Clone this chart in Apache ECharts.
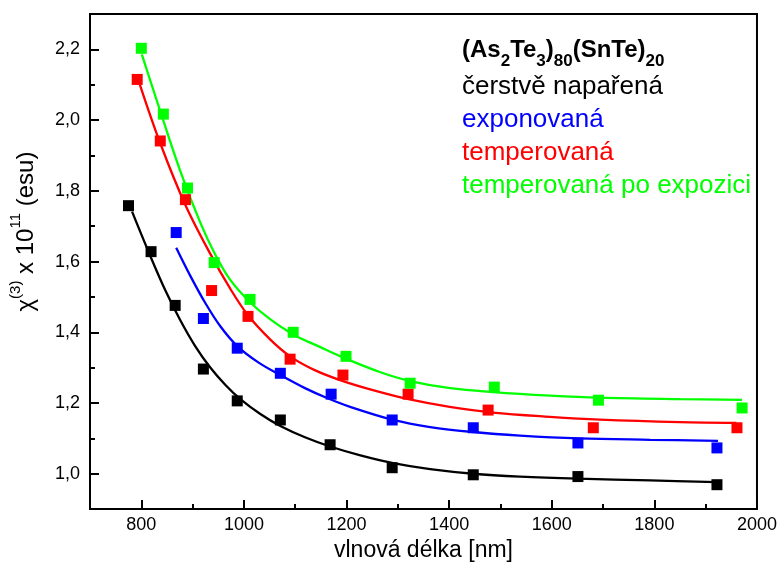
<!DOCTYPE html>
<html>
<head>
<meta charset="utf-8">
<script src="https://cdn.jsdelivr.net/npm/echarts@6/dist/echarts.min.js"></script>
<style>
  html, body { margin: 0; padding: 0; background: #fff; }
  #chart { width: 780px; height: 567px; }
</style>
</head>
<body>
<div id="chart"></div>
<script>
// Measured χ(3) values (×10^11 esu) against wavelength (nm)
const wlFresh = [775, 819, 866, 921, 987, 1071, 1168, 1289, 1447, 1651, 1922];
const chiFresh = [1.758, 1.628, 1.476, 1.296, 1.206, 1.152, 1.082, 1.017, 0.997, 0.992, 0.969];

const wlExposed = [868, 921, 987, 1071, 1170, 1289, 1447, 1651, 1922];
const chiExposed = [1.682, 1.439, 1.355, 1.284, 1.225, 1.152, 1.130, 1.087, 1.073];

const wlAnnealed = [792, 837, 886, 937, 1008, 1090, 1193, 1320, 1476, 1681, 1961];
const chiAnnealed = [2.115, 1.941, 1.775, 1.518, 1.445, 1.324, 1.279, 1.225, 1.180, 1.130, 1.130];

const wlAnnealedExp = [800, 843, 890, 942, 1012, 1096, 1199, 1324, 1488, 1691, 1971];
const chiAnnealedExp = [2.203, 2.017, 1.808, 1.597, 1.493, 1.400, 1.332, 1.256, 1.245, 1.208, 1.186];

// Fitted decay curves, sampled along each line
const fitWlFresh = [782, 818, 847, 876, 905, 934, 964, 993, 1032, 1071, 1119, 1168, 1227, 1291, 1363, 1447, 1538, 1651, 1792, 1922];
const fitChiFresh = [1.741, 1.614, 1.518, 1.434, 1.361, 1.301, 1.251, 1.211, 1.169, 1.135, 1.103, 1.077, 1.052, 1.030, 1.013, 1.000, 0.992, 0.986, 0.981, 0.976];

const fitWlExposed = [868, 895, 925, 954, 987, 1028, 1071, 1119, 1162, 1207, 1291, 1363, 1447, 1538, 1653, 1792, 1924];
const fitChiExposed = [1.639, 1.561, 1.482, 1.417, 1.361, 1.315, 1.279, 1.242, 1.214, 1.189, 1.152, 1.132, 1.118, 1.108, 1.100, 1.096, 1.093];

const fitWlAnnealed = [797, 836, 885, 934, 973, 1008, 1051, 1090, 1138, 1193, 1255, 1323, 1401, 1485, 1596, 1694, 1849, 1960];
const fitChiAnnealed = [2.101, 1.938, 1.763, 1.623, 1.524, 1.448, 1.380, 1.332, 1.293, 1.262, 1.235, 1.210, 1.189, 1.173, 1.161, 1.153, 1.146, 1.144];

const fitWlAnnealedExp = [801, 837, 876, 915, 944, 973, 1012, 1051, 1096, 1149, 1201, 1266, 1324, 1402, 1486, 1597, 1694, 1850, 1971];
const fitChiAnnealedExp = [2.186, 2.025, 1.856, 1.710, 1.620, 1.549, 1.485, 1.437, 1.394, 1.358, 1.324, 1.287, 1.262, 1.242, 1.231, 1.221, 1.215, 1.211, 1.209];

const seriesNames = ['čerstvě napařená', 'exponovaná', 'temperovaná', 'temperovaná po expozici'];
const seriesColors = ['#000000', '#0000ff', '#ff0000', '#00ff00'];

const pairs = (xs, ys) => xs.map((x, i) => [x, ys[i]]);
const measured = [
  pairs(wlFresh, chiFresh),
  pairs(wlExposed, chiExposed),
  pairs(wlAnnealed, chiAnnealed),
  pairs(wlAnnealedExp, chiAnnealedExp)
];
const fitted = [
  pairs(fitWlFresh, fitChiFresh),
  pairs(fitWlExposed, fitChiExposed),
  pairs(fitWlAnnealed, fitChiAnnealed),
  pairs(fitWlAnnealedExp, fitChiAnnealedExp)
];

const FONT = '"Liberation Sans", Arial, sans-serif';

const series = [];
fitted.forEach((d, i) => {
  series.push({
    name: seriesNames[i] + ' fit',
    type: 'line',
    data: d,
    smooth: 0.35,
    showSymbol: false,
    lineStyle: { color: seriesColors[i], width: 2.3 },
    silent: true,
    z: 2
  });
});
measured.forEach((d, i) => {
  series.push({
    name: seriesNames[i],
    type: 'scatter',
    data: d,
    symbol: 'rect',
    symbolSize: 11,
    itemStyle: { color: seriesColors[i], opacity: 1 },
    z: 3
  });
});

const yLabel = v => {
  const k = Math.round(v * 10);
  if (k % 2 !== 0 || k < 10 || k > 22) return '';
  return (k / 10).toFixed(1).replace('.', ',');
};
const xLabel = v => (Math.round(v) % 200 === 0 && v >= 800) ? String(Math.round(v)) : '';

const chart = echarts.init(document.getElementById('chart'), null, { renderer: 'canvas' });
chart.setOption({
  animation: false,
  backgroundColor: '#fff',
  textStyle: { fontFamily: FONT },
  grid: {
    left: 90, top: 14, right: 23, bottom: 57,
    show: true, borderColor: '#000', borderWidth: 2, backgroundColor: 'transparent'
  },
  title: {
    left: 457, top: 25,
    text: '{b|(As}{bs|2}{b|Te}{bs|3}{b|)}{bs|80}{b|(SnTe)}{bs|20}\n' +
          '{k|' + seriesNames[0] + '}\n{bl|' + seriesNames[1] + '}\n{r|' + seriesNames[2] + '}\n{g|' + seriesNames[3] + '}',
    textStyle: {
      fontFamily: FONT,
      fontWeight: 'normal',
      rich: {
        b: { fontSize: 24, fontWeight: 'bold', color: '#000', lineHeight: 40, fontFamily: FONT },
        bs: { fontSize: 17, fontWeight: 'bold', color: '#000', lineHeight: 22, verticalAlign: 'bottom', fontFamily: FONT },
        k: { fontSize: 26, fontWeight: 'normal', color: '#000', lineHeight: 33, fontFamily: FONT },
        bl: { fontSize: 26, fontWeight: 'normal', color: seriesColors[1], lineHeight: 33, fontFamily: FONT },
        r: { fontSize: 26, fontWeight: 'normal', color: seriesColors[2], lineHeight: 33, fontFamily: FONT },
        g: { fontSize: 26, fontWeight: 'normal', color: seriesColors[3], lineHeight: 33, fontFamily: FONT }
      }
    }
  },
  xAxis: [
    {
      type: 'value', min: 700, max: 2000, splitNumber: 6,
      name: 'vlnová délka [nm]', nameLocation: 'middle', nameGap: 28,
      nameTextStyle: { fontSize: 23, color: '#000', fontFamily: FONT },
      axisLine: { show: true, onZero: false, lineStyle: { color: '#000', width: 2 } },
      axisTick: { show: true, inside: true, length: 9, lineStyle: { color: '#000', width: 2 } },
      axisLabel: { fontSize: 18, color: '#000', margin: 7, formatter: xLabel, fontFamily: FONT },
      splitLine: { show: false }
    },
    {
      // odd-hundred minor ticks
      type: 'value', min: 600, max: 1900, interval: 200, position: 'bottom',
      axisLine: { show: false },
      axisTick: { show: true, inside: true, length: 5, lineStyle: { color: '#000', width: 2 } },
      axisLabel: { show: false },
      splitLine: { show: false }
    }
  ],
  yAxis: [
    {
      type: 'value', min: 0.9, max: 2.3, splitNumber: 7,
      name: '{c|χ}{s|(3)}{n| x 10}{s|11}{n| (esu)}', nameLocation: 'middle', nameGap: 52, nameRotate: 90,
      nameTextStyle: {
        color: '#000', fontFamily: FONT,
        padding: [0, 0, 0, 60],
        rich: {
          c: { fontSize: 24, color: '#000', fontFamily: FONT, lineHeight: 30, verticalAlign: 'bottom' },
          n: { fontSize: 24, color: '#000', fontFamily: FONT, lineHeight: 30, verticalAlign: 'bottom' },
          s: { fontSize: 15, color: '#000', fontFamily: FONT, lineHeight: 16, verticalAlign: 'top' }
        }
      },
      axisLine: { show: true, onZero: false, lineStyle: { color: '#000', width: 2 } },
      axisTick: { show: true, inside: true, length: 9, lineStyle: { color: '#000', width: 2 } },
      axisLabel: { fontSize: 18, color: '#000', margin: 10, formatter: yLabel, fontFamily: FONT },
      splitLine: { show: false }
    },
    {
      // odd-tenth minor ticks
      type: 'value', min: 0.8, max: 2.2, interval: 0.2, position: 'left', offset: 0,
      axisLine: { show: false },
      axisTick: { show: true, inside: true, length: 5, lineStyle: { color: '#000', width: 2 } },
      axisLabel: { show: false },
      splitLine: { show: false }
    }
  ],
  series: series
});
</script>
</body>
</html>
